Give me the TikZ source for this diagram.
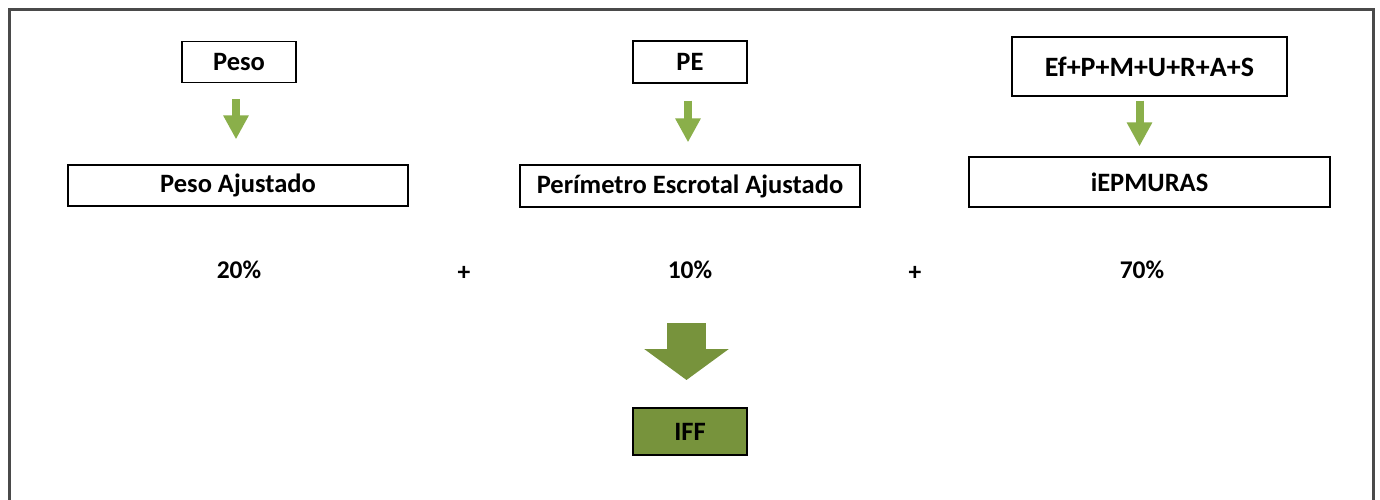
\documentclass[tikz,border=0pt]{standalone}
\usepackage{fontspec}
\setmainfont{Carlito}
\usetikzlibrary{arrows.meta,calc}
\definecolor{lightgreen}{HTML}{8AAF4A}
\definecolor{olivegreen}{HTML}{77933C}
\definecolor{framegray}{HTML}{4A4A4A}
\tikzset{
  box/.style={draw=black, line width=1.3pt, fill=white, inner sep=0pt, font=\bfseries\fontsize{26.5}{28}\selectfont},
  label/.style={font=\bfseries\fontsize{25.5}{28}\selectfont, inner sep=0pt},
  smallarrow/.style={draw=lightgreen, line width=8pt, -{Triangle[width=24pt,length=24pt]}},
  bigarrow/.style={draw=olivegreen, line width=39pt, -{Triangle[width=83pt,length=31pt]}},
}
\begin{document}
\begin{tikzpicture}[x=1pt,y=-1pt]
\useasboundingbox (0,0) rectangle (1380,500);
\fill[white] (0,0) rectangle (1380,500);
\draw[framegray, line width=3pt] (9,510) -- (9,10) -- (1373,10) -- (1373,510);
% top boxes
\node[box, minimum width=114pt, minimum height=41pt] (peso) at (239,62) {Peso};
\node[box, minimum width=114pt, minimum height=42pt] (pe) at (690,62) {PE};
\node[box, minimum width=275pt, minimum height=59pt, font=\bfseries\fontsize{28}{30}\selectfont] (ef) at (1149.5,66.5) {Ef+P+M+U+R+A+S};
% middle boxes
\node[box, minimum width=340pt, minimum height=41pt] (pesoaj) at (238,185.5) {Peso Ajustado};
\node[box, minimum width=340pt, minimum height=42pt] (peaj) at (690,186) {Perímetro Escrotal Ajustado};
\node[box, minimum width=361pt, minimum height=50pt] (iep) at (1149.5,182) {iEPMURAS};
% small arrows
\draw[smallarrow, shorten <=16pt, shorten >=25pt] ([xshift=-3pt]peso.south) -- ([xshift=-3pt]peso.south |- pesoaj.north);
\draw[smallarrow, shorten <=17pt, shorten >=22pt] ([xshift=-2pt]pe.south) -- ([xshift=-2pt]pe.south |- peaj.north);
\draw[smallarrow, shorten <=4pt, shorten >=10pt] ([xshift=-10pt]ef.south) -- ([xshift=-10pt]ef.south |- iep.north);
% percentages
\node[label] (p20) at (239,270) {20\%};
\node[label] (plus1) at (464,273) {+};
\node[label] (p10) at (690,270) {10\%};
\node[label] (plus2) at (915,273) {+};
\node[label] (p70) at (1142,270) {70\%};
% result
\node[box, fill=olivegreen, minimum width=114pt, minimum height=47pt] (iff) at (690,431.5) {IFF};
\coordinate (bigtop) at (686.5,323);
\draw[bigarrow] (bigtop) -- (686.5,380);
\end{tikzpicture}
\end{document}
